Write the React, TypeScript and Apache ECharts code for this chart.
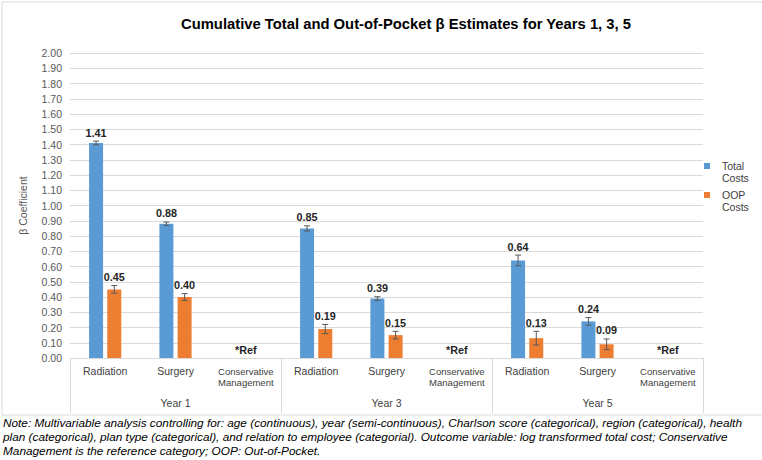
import React, { useEffect, useRef } from "react";
import * as echarts from "echarts";

const categories = [
  "Radiation", "Surgery", "Conservative Management",
  "Radiation", "Surgery", "Conservative Management",
  "Radiation", "Surgery", "Conservative Management",
];
const years = ["Year 1", "Year 3", "Year 5"];
const totalValues = [1.41, 0.88, null, 0.85, 0.39, null, 0.64, 0.24, null];
const oopValues = [0.45, 0.40, null, 0.19, 0.15, null, 0.13, 0.09, null];
const totalErr = [0.012, 0.012, null, 0.017, 0.012, null, 0.035, 0.025, null];
const oopErr = [0.025, 0.022, null, 0.03, 0.025, null, 0.045, 0.035, null];
const refIndices = [2, 5, 8];
const refLabel = "*Ref";
const yTicks = { min: 0, max: 2, interval: 0.1 };

const title = "Cumulative Total and Out-of-Pocket β Estimates for Years 1, 3, 5";
const note =
  "Note: Multivariable analysis controlling for: age (continuous), year (semi-continuous), Charlson score (categorical), region (categorical), health\nplan (categorical), plan type (categorical), and relation to employee (categorial). Outcome variable: log transformed total cost; Conservative\nManagement is the reference category; OOP: Out-of-Pocket.";

const FONT = "'Liberation Sans', Arial, sans-serif";
const BLUE = "#5b9bd5";
const ORANGE = "#ed7d31";
const BAR_W = 14;
const BAR_GAP = 0.3;
const LEGEND_ICON = "path://M0,3L6,3L6,9L0,9Z M0,0L0.01,0L0.01,0.01Z M0,24L0.01,24L0.01,23.99Z";

function errData(vals: (number | null)[], errs: (number | null)[]) {
  const out: number[][] = [];
  vals.forEach((v, i) => {
    if (v == null) return;
    const e = errs[i] || 0;
    out.push([i, v, v - e, v + e]);
  });
  return out;
}

function makeErrRender(sign: number) {
  const off = (sign * (BAR_W + BAR_W * BAR_GAP)) / 2;
  return (params: any, api: any) => {
    const i = api.value(0);
    const v = api.value(1);
    const lo = api.coord([i, api.value(2)]);
    const hi = api.coord([i, api.value(3)]);
    const x = lo[0] + off;
    const cap = 3;
    const st = { stroke: "#595959", lineWidth: 1 };
    return {
      type: "group",
      children: [
        { type: "line", shape: { x1: x, y1: lo[1], x2: x, y2: hi[1] }, style: st },
        { type: "line", shape: { x1: x - cap, y1: lo[1], x2: x + cap, y2: lo[1] }, style: st },
        { type: "line", shape: { x1: x - cap, y1: hi[1], x2: x + cap, y2: hi[1] }, style: st },
        {
          type: "text",
          style: {
            text: v.toFixed(2),
            x: x,
            y: hi[1] - 3,
            textAlign: "center",
            textVerticalAlign: "bottom",
            fill: "#262626",
            font: `bold 10.8px ${FONT}`,
          },
        },
      ],
    };
  };
}

function refRender(params: any, api: any) {
  const p = api.coord([api.value(0), api.value(1)]);
  return {
    type: "text",
    style: {
      text: refLabel,
      x: p[0],
      y: p[1] - 3,
      textAlign: "center",
      textVerticalAlign: "bottom",
      fill: "#262626",
      font: `bold 10.8px ${FONT}`,
    },
  };
}

export default function App() {
  const ref = useRef<HTMLDivElement>(null);
  useEffect(() => {
    if (!ref.current) return;
    const chart = echarts.init(ref.current, null, { renderer: "svg" });
    chart.setOption({
      animation: false,
      backgroundColor: "#ffffff",
      textStyle: { fontFamily: FONT },
      grid: { left: 70, right: 59, top: 53, bottom: 102 },
      legend: {
        data: ["Total Costs", "OOP Costs"],
        orient: "vertical",
        left: 699,
        top: 155,
        itemGap: 5,
        icon: LEGEND_ICON,
        itemWidth: 6,
        itemHeight: 24,
        formatter: (n: string) => n.replace(" ", "\n"),
        textStyle: { fontSize: 10.5, lineHeight: 12, color: "#404040", fontFamily: FONT, padding: [0, 0, 0, 7] },
      },
      xAxis: [
        {
          type: "category",
          data: categories,
          axisLine: { show: true, lineStyle: { color: "#d9d9d9" } },
          axisTick: { show: false },
          axisLabel: {
            interval: 0,
            margin: 7,
            color: "#404040",
            fontSize: 10.5,
            fontFamily: FONT,
            formatter: (v: string) =>
              v === "Conservative Management" ? "{s|Conservative}\n{s|Management}" : v,
            rich: { s: { fontSize: 9.5, lineHeight: 11, color: "#404040", fontFamily: FONT, padding: [2, 0, 0, 0] } },
          },
        },
        {
          type: "category",
          data: years,
          position: "bottom",
          axisLine: { show: false },
          axisTick: { show: true, length: 55, interval: 0, lineStyle: { color: "#d9d9d9" } },
          axisLabel: { margin: 39, color: "#404040", fontSize: 10.5, fontFamily: FONT },
          splitLine: { show: false },
        },
      ],
      yAxis: {
        type: "value",
        min: yTicks.min,
        max: yTicks.max,
        interval: yTicks.interval,
        name: "β Coefficient",
        nameLocation: "middle",
        nameGap: 42,
        nameRotate: 90,
        nameTextStyle: { fontSize: 10.5, color: "#595959", fontFamily: FONT },
        axisLine: { show: false },
        axisTick: { show: false },
        axisLabel: {
          margin: 8,
          color: "#595959",
          fontSize: 10.5,
          fontFamily: FONT,
          formatter: (v: number) => v.toFixed(2),
        },
        splitLine: { lineStyle: { color: "#d9d9d9" } },
      },
      series: [
        {
          name: "Total Costs",
          type: "bar",
          data: totalValues.map((v) => (v == null ? "-" : v)),
          barWidth: BAR_W,
          barGap: `${BAR_GAP * 100}%`,
          itemStyle: { color: BLUE },
        },
        {
          name: "OOP Costs",
          type: "bar",
          data: oopValues.map((v) => (v == null ? "-" : v)),
          barWidth: BAR_W,
          barGap: `${BAR_GAP * 100}%`,
          itemStyle: { color: ORANGE },
        },
        {
          name: "Total err",
          type: "custom",
          renderItem: makeErrRender(-1),
          data: errData(totalValues, totalErr),
          encode: { x: 0, y: [1, 2, 3] },
          z: 5,
        },
        {
          name: "OOP err",
          type: "custom",
          renderItem: makeErrRender(1),
          data: errData(oopValues, oopErr),
          encode: { x: 0, y: [1, 2, 3] },
          z: 5,
        },
        {
          name: "Ref",
          type: "custom",
          renderItem: refRender,
          data: refIndices.map((i) => [i, 0]),
          encode: { x: 0, y: 1 },
          z: 5,
        },
      ],
      graphic: [
        {
          type: "rect",
          shape: { x: 2, y: 2, width: 770, height: 413 },
          style: { fill: "none", stroke: "#d9d9d9", lineWidth: 1 },
          silent: true,
        },
        {
          type: "text",
          x: 406,
          y: 24,
          style: {
            text: title,
            textAlign: "center",
            textVerticalAlign: "middle",
            fill: "#000000",
            font: `bold 14.8px ${FONT}`,
          },
        },
        {
          type: "text",
          x: 3,
          y: 416,
          style: {
            text: note,
            textAlign: "left",
            textVerticalAlign: "top",
            fill: "#000000",
            font: `italic 11.8px ${FONT}`,
            lineHeight: 14,
          },
        },
      ],
    });
    return () => chart.dispose();
  }, []);
  return (
    <div
      ref={ref}
      style={{ position: "fixed", left: 0, top: 0, width: 762, height: 460, background: "#fff" }}
    />
  );
}
